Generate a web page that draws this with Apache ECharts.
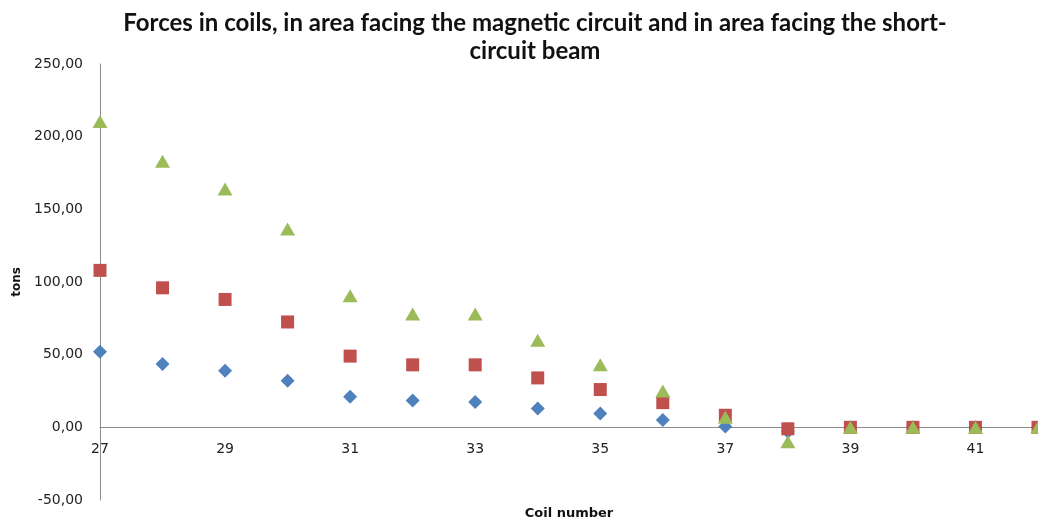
<!DOCTYPE html>
<html>
<head>
<meta charset="utf-8">
<script src="https://cdn.jsdelivr.net/npm/echarts@6/dist/echarts.min.js"></script>
<style>
  html, body { margin: 0; padding: 0; background: #fff; }
  #main { width: 1038px; height: 521px; }
</style>
</head>
<body>
<div id="main"></div>
<script>
// coil numbers on the x axis
var coils = [27, 28, 29, 30, 31, 32, 33, 34, 35, 36, 37, 38, 39, 40, 41, 42];

// forces in tons
var blueVals  = [52, 43.5, 39, 32, 21, 18.5, 17.5, 13, 9.5, 5, 0.5, -3, 0, 0, 0, 0];
var redVals   = [108, 96, 88, 72.5, 49, 43, 43, 34, 26, 17, 8.3, -1, 0, 0, 0, 0];
var greenVals = [210.5, 183, 164, 136.5, 90.5, 78, 78, 60, 43, 25, 7, -10, 0, 0, 0, 0];

var xLabels = [27, 29, 31, 33, 35, 37, 39, 41];

var yMin = -50, yMax = 250;
var gridTop = 64, gridBottom = 21, chartH = 521;

function pairs(vals) {
  var out = [];
  for (var i = 0; i < coils.length; i++) {
    out.push([coils[i], vals[i]]);
  }
  return out;
}

// move the x axis up so that it sits on y = 0
var plotH = chartH - gridTop - gridBottom;
var zeroShift = plotH * (0 - yMin) / (yMax - yMin);

var dom = document.getElementById('main');
var myChart = echarts.init(dom);
var labelFont = 'DejaVu Sans';

var option = {
  animation: false,
  title: {
    text: 'Forces in coils, in area facing the magnetic circuit and in area facing the short-\ncircuit beam',
    left: 530,
    textAlign: 'center',
    top: 4,
    textStyle: {
      fontFamily: 'Lato',
      fontWeight: 'bold',
      fontSize: 24,
      lineHeight: 28,
      color: '#111'
    }
  },
  grid: {
    left: 100,
    right: 0,
    top: gridTop,
    bottom: gridBottom,
    outerBoundsMode: 'none'
  },
  xAxis: {
    type: 'value',
    min: 27,
    max: 42,
    interval: 1,
    offset: -zeroShift,
    name: 'Coil number',
    nameLocation: 'middle',
    nameGap: 80,
    nameTextStyle: { fontFamily: labelFont, fontWeight: 'bold', fontSize: 13, color: '#111' },
    axisLine: { onZero: false, lineStyle: { color: '#8c8c8c', width: 1 } },
    axisTick: { show: false },
    splitLine: { show: false },
    axisLabel: {
      margin: 15,
      fontFamily: labelFont,
      fontSize: 14,
      color: '#222',
      showMaxLabel: true,
      formatter: function (v) {
        return xLabels.indexOf(v) >= 0 ? String(v) : '';
      }
    }
  },
  yAxis: {
    type: 'value',
    min: yMin,
    max: yMax,
    interval: 50,
    name: 'tons',
    nameLocation: 'middle',
    nameGap: 76,
    nameTextStyle: { fontFamily: labelFont, fontWeight: 'bold', fontSize: 12, color: '#111' },
    axisLine: { show: true, onZero: false, lineStyle: { color: '#8c8c8c', width: 1 } },
    axisTick: { show: false },
    splitLine: { show: false },
    axisLabel: {
      margin: 17,
      fontFamily: labelFont,
      fontSize: 14,
      color: '#222',
      formatter: function (v) {
        return v.toFixed(2).replace('.', ',');
      }
    }
  },
  series: [
    {
      name: 'blue',
      type: 'scatter',
      symbol: 'diamond',
      symbolSize: 14,
      clip: true,
      itemStyle: { color: '#4F81BD', opacity: 1 },
      data: pairs(blueVals)
    },
    {
      name: 'red',
      type: 'scatter',
      symbol: 'rect',
      symbolSize: 13,
      clip: true,
      itemStyle: { color: '#C0504D', opacity: 1 },
      data: pairs(redVals)
    },
    {
      name: 'green',
      type: 'scatter',
      symbol: 'triangle',
      symbolSize: [15, 13],
      clip: true,
      itemStyle: { color: '#9BBB59', opacity: 1 },
      data: pairs(greenVals)
    }
  ]
};

myChart.setOption(option);
</script>
</body>
</html>
